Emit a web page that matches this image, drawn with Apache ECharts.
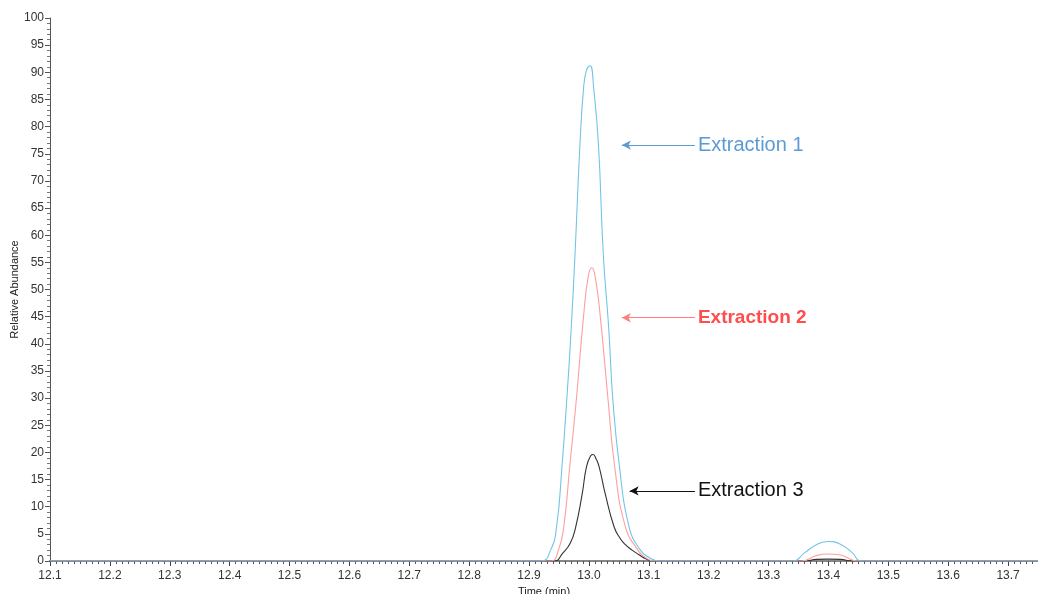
<!DOCTYPE html>
<html>
<head>
<meta charset="utf-8">
<script src="https://cdn.jsdelivr.net/npm/echarts@6/dist/echarts.min.js"></script>
<style>
html,body{margin:0;padding:0;background:#fff;overflow:hidden;}
#chart{width:1038px;height:594px;}
</style>
</head>
<body>
<div id="chart"></div>
<script>
// Data: [time (min), relative abundance]
const extraction1 = [
  [12.10,0],[12.92,0],[12.936,2.0],[12.946,6.3],[12.955,17.4],[12.963,29.7],[12.970,42],
  [12.977,57],[12.985,76.6],[12.991,87],[12.996,90.4],[13.002,91.2],[13.008,87],[13.016,76.6],
  [13.024,56.5],[13.033,43],[13.040,29.7],[13.051,17.4],[13.067,6.3],[13.086,2.0],[13.100,0.7],
  [13.118,0],[13.34,0],[13.36,1.5],[13.38,3.0],[13.40,3.6],[13.42,3.1],[13.44,1.5],[13.455,0],[13.75,0]
];
const extraction2 = [
  [12.10,0],[12.936,0],[12.949,2.0],[12.958,6.3],[12.968,17.4],[12.979,29.7],[12.991,45],
  [12.999,52.5],[13.005,54],[13.011,52],[13.019,45],[13.032,29.7],[13.043,17.4],[13.061,6.3],
  [13.082,2.0],[13.095,0.6],[13.11,0],[13.355,0],[13.38,1.0],[13.40,1.3],[13.42,1.1],[13.449,0],[13.75,0]
];
const extraction3 = [
  [12.10,0],[12.942,0],[12.956,1.4],[12.969,3.3],[12.978,6.3],[12.989,12.5],[12.996,17.4],
  [13.003,19.4],[13.007,19.6],[13.012,18.8],[13.017,17.4],[13.027,12.5],[13.042,6.3],[13.052,4.2],
  [13.061,3.0],[13.072,2.0],[13.083,1.2],[13.095,0.4],[13.108,0],[13.36,0],[13.38,0.3],[13.40,0.35],
  [13.42,0.3],[13.44,0],[13.75,0]
];
const seriesNames = ['Extraction 1','Extraction 2','Extraction 3'];
// Annotation arrows: [tipTime, tailTime, level]
const annot1 = [13.055, 13.177, 76.6];
const annot2 = [13.055, 13.177, 44.8];
const annot3 = [13.068, 13.177, 12.9];

const lineColors = ['#74c3e6','#ff9e9e','#333333'];
const textColors = ['#5b9bd5','#ff4d4d','#111111'];
const arrowColors = ['#5b9bd5','#ff7f7f','#111111'];
const datasets = [extraction1, extraction2, extraction3];
const annots = [annot1, annot2, annot3];

const chart = echarts.init(document.getElementById('chart'), null, {renderer:'canvas'});
const font = 'Liberation Sans, Arial, sans-serif';

const series = datasets.map((d,i)=>({
  name: seriesNames[i],
  type: 'line',
  data: d,
  showSymbol: false,
  smooth: 0.5,
  lineStyle: {color: lineColors[i], width: 1.1},
  z: 3 + (2-i),
  markLine: {
    silent: true,
    symbol: ['arrow','none'],
    symbolSize: [7, 9],
    lineStyle: {color: arrowColors[i], width: 1, type: 'solid'},
    label: {
      show: true, position: 'end', distance: 3,
      formatter: seriesNames[i],
      color: textColors[i], fontSize: i===1 ? 19 : 20, fontFamily: font,
      fontWeight: i===1 ? 'bold' : 'normal'
    },
    data: [[{coord:[annots[i][0], annots[i][2]]},{coord:[annots[i][1], annots[i][2]]}]]
  }
}));

chart.setOption({
  animation: false,
  backgroundColor: '#fff',
  grid: {left: 50, top: 18, right: 0, bottom: 33, containLabel: false, outerBoundsMode: 'none'},
  xAxis: [{
    type: 'value', min: 12.1, max: 13.75, interval: 0.1,
    name: 'Time (min)', nameLocation: 'middle', nameGap: 25, nameMoveOverlap: false,
    nameTextStyle: {fontSize: 11, color: '#222', fontFamily: font},
    axisLine: {show: true, onZero: false, lineStyle: {color: '#2a3d48', width: 2}},
    axisTick: {show: true, length: 5, lineStyle: {color: '#444'}},
    minorTick: {show: true, splitNumber: 10, length: 3, lineStyle: {color: '#555'}},
    splitLine: {show: false},
    axisLabel: {fontSize: 12, color: '#333', fontFamily: font, margin: 9, showMaxLabel: false,
      formatter: v => v.toFixed(1)}
  },{
    type: 'value', min: 12.1, max: 13.75, position: 'top',
    axisLine: {show: true, lineStyle: {color: '#a0a0a0', width: 1.5}},
    axisTick: {show: false}, axisLabel: {show: false}, splitLine: {show: false}
  }],
  yAxis: {
    type: 'value', min: 0, max: 100, interval: 5,
    name: 'Relative Abundance', nameLocation: 'middle', nameGap: 30, nameRotate: 90, nameMoveOverlap: false,
    nameTextStyle: {fontSize: 11, color: '#222', fontFamily: font},
    axisLine: {show: true, lineStyle: {color: '#555', width: 1}},
    axisTick: {show: true, length: 5, lineStyle: {color: '#555'}},
    minorTick: {show: true, splitNumber: 5, length: 3, lineStyle: {color: '#777'}},
    splitLine: {show: false},
    axisLabel: {fontSize: 12, color: '#333', fontFamily: font, margin: 6}
  },
  series: series
});
</script>
</body>
</html>
